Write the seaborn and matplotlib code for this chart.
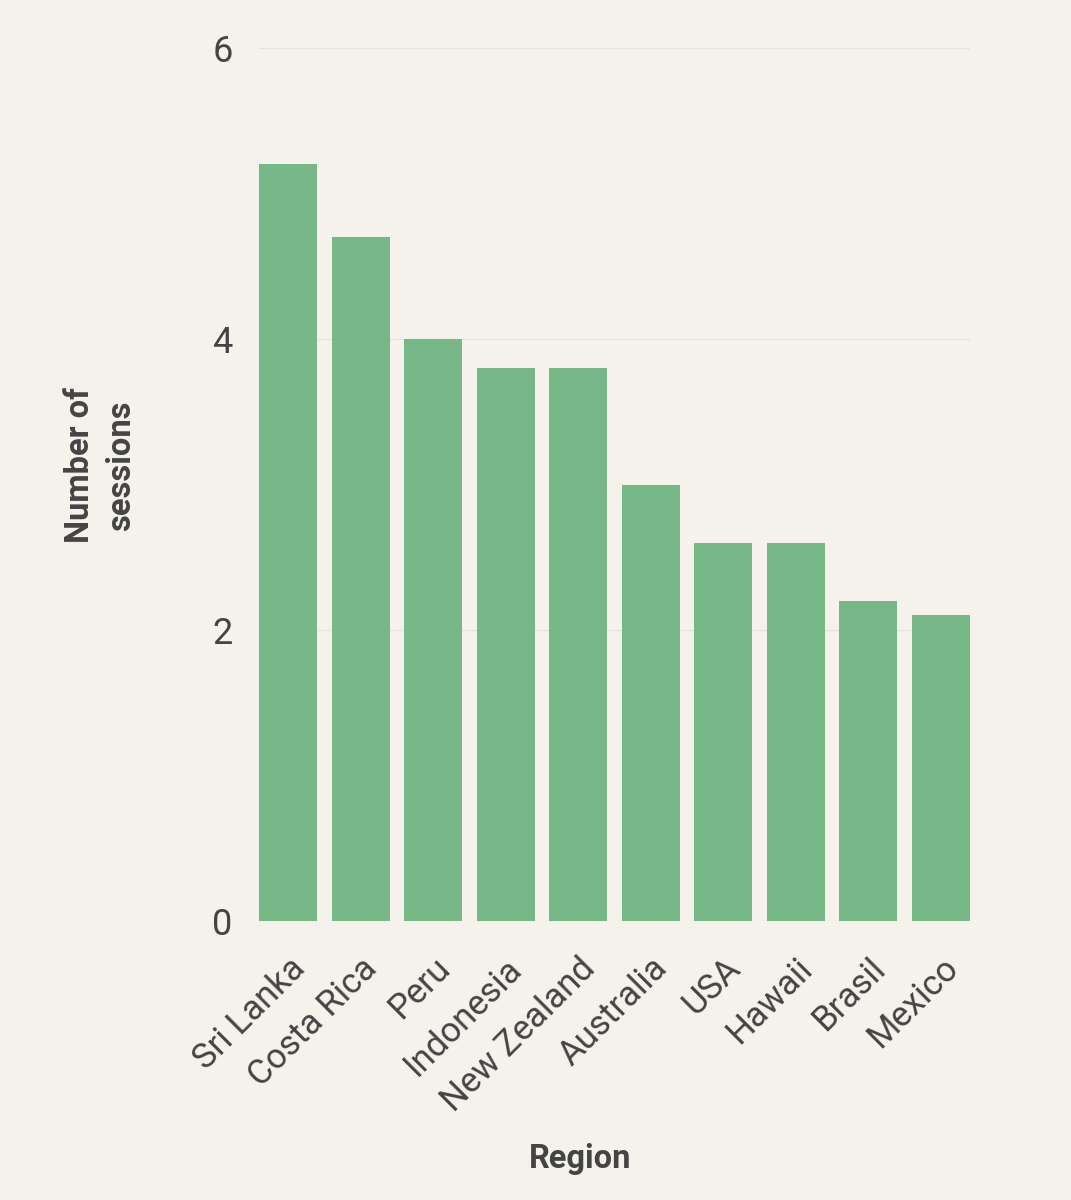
import matplotlib
matplotlib.use("Agg")
import matplotlib.pyplot as plt
import pandas as pd
import seaborn as sns

# --- dane ---
REGIONS = ["Sri Lanka", "Costa Rica", "Peru", "Indonesia", "New Zealand",
           "Australia", "USA", "Hawaii", "Brasil", "Mexico"]
SESSIONS = [5.2, 4.7, 4.0, 3.8, 3.8, 3.0, 2.6, 2.6, 2.2, 2.1]
Y_TICKS = [0, 2, 4, 6]

BG = "#f5f2ec"
BAR_COLOR = "#78b888"
TEXT_COLOR = "#444444"
BAR_WIDTH = 0.8


def main():
    sns.set_theme(style="white")
    plt.rcParams["font.family"] = ["Roboto", "DejaVu Sans"]

    df = pd.DataFrame({"Region": REGIONS, "Sessions": SESSIONS})

    fig = plt.figure(figsize=(10.71, 12), dpi=100, facecolor=BG)
    ax = fig.add_axes([0.2418, 0.2325, 0.6639, 0.7275])
    ax.set_facecolor(BG)

    sns.barplot(data=df, x="Region", y="Sessions", color=BAR_COLOR,
                saturation=1, width=BAR_WIDTH, linewidth=0, ax=ax, zorder=3)

    ax.set_ylim(0, 6)
    ax.set_yticks(Y_TICKS)
    ax.set_yticklabels([str(t) for t in Y_TICKS], fontsize=26, color=TEXT_COLOR)
    ax.tick_params(axis="y", length=0, pad=19)
    ax.tick_params(axis="x", length=0, pad=22)
    # pierwszy słupek zaczyna się dokładnie na lewej krawędzi osi
    ax.set_xlim(-BAR_WIDTH / 2, len(REGIONS) - 1 + BAR_WIDTH / 2)

    for lbl in ax.get_xticklabels():
        lbl.set_rotation(45)
        lbl.set_ha("right")
        lbl.set_rotation_mode("anchor")
        lbl.set_fontsize(25)
        lbl.set_color(TEXT_COLOR)

    ax.grid(axis="y", color="#e6e3dc", linewidth=1, zorder=0)
    for side in ["top", "right", "left", "bottom"]:
        ax.spines[side].set_visible(False)

    ax.set_xlabel("Region", fontsize=23.5, fontweight="bold", color=TEXT_COLOR)
    ax.xaxis.set_label_coords(0.451, -0.254)
    ax.set_ylabel("Number of\nsessions", fontsize=23.5, fontweight="bold",
                  color=TEXT_COLOR, linespacing=1.35)
    ax.yaxis.set_label_coords(-0.172, 0.522)

    fig.savefig("out.png", dpi=100, facecolor=BG)
    plt.close(fig)


if __name__ == "__main__":
    main()
